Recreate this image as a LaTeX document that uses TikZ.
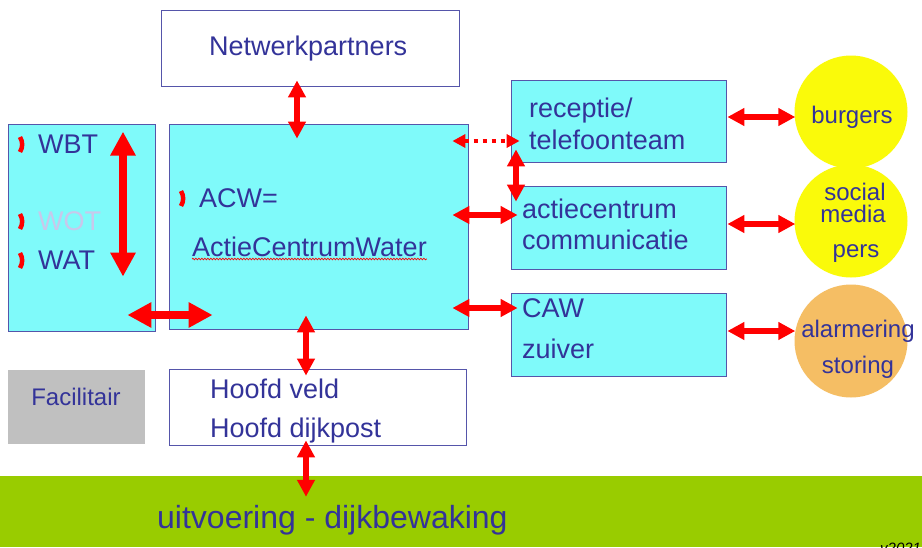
\documentclass[tikz,border=0pt]{standalone}
\usepackage{fontspec}
\setmainfont{Liberation Sans}
\usetikzlibrary{arrows.meta,decorations.pathmorphing,calc}
\definecolor{txtblue}{RGB}{51,51,153}
\definecolor{boxline}{RGB}{85,85,170}
\definecolor{cyanfill}{RGB}{127,250,250}
\definecolor{yel}{RGB}{250,250,10}
\definecolor{orng}{RGB}{245,190,100}
\definecolor{grn}{RGB}{153,204,0}
\definecolor{gry}{RGB}{192,192,192}
\definecolor{pale}{RGB}{200,200,235}
\tikzset{
  wbox/.style={draw=boxline, line width=0.8pt, fill=white, inner sep=0pt},
  cbox/.style={draw=boxline, line width=0.8pt, fill=cyanfill, inner sep=0pt},
  circ/.style={circle, inner sep=0pt, minimum size=113pt},
  lbl/.style={text=txtblue, inner sep=0pt, font=\fontsize{27}{31}\selectfont},
  clbl/.style={text=txtblue, inner sep=0pt, font=\fontsize{24}{28}\selectfont},
  arr/.style={draw=red, line width=6.5pt, {Triangle[width=17pt,length=17pt]}-{Triangle[width=17pt,length=17pt]}},
  bigarr/.style={draw=red, line width=8pt, {Triangle[width=24pt,length=24pt]}-{Triangle[width=24pt,length=24pt]}},
  dotarr/.style={draw=red, line width=4pt, dash pattern=on 4pt off 5pt, {Triangle[width=13pt,length=13pt]}-{Triangle[width=13pt,length=13pt]}},
  bul/.style={draw=red, line width=4.5pt},
}
\begin{document}
\begin{tikzpicture}[x=1pt,y=-1pt]
\clip (0,0) rectangle (922,547);
\fill[white] (0,0) rectangle (922,547);

% boxes
\node[wbox, minimum width=298pt, minimum height=76pt] (np) at (310,48) {};
\node[cbox, minimum width=147pt, minimum height=207pt] (left) at (81.5,227.5) {};
\node[cbox, minimum width=299pt, minimum height=205pt] (acw) at (318.5,226.5) {};
\node[cbox, minimum width=215pt, minimum height=82pt] (rec) at (618.5,121) {};
\node[cbox, minimum width=215pt, minimum height=83pt] (acc) at (618.5,227.5) {};
\node[cbox, minimum width=215pt, minimum height=83pt] (caw) at (618.5,334.5) {};
\node[fill=gry, inner sep=0pt, minimum width=137pt, minimum height=74pt] (fac) at (76.5,407) {};
\node[wbox, minimum width=297pt, minimum height=76pt] (hoofd) at (317.5,407) {};
\node[fill=grn, inner sep=0pt, minimum width=922pt, minimum height=71pt] (green) at (461,511.5) {};

% circles
\node[circ, fill=yel] (burg) at (851,112) {};
\node[circ, fill=yel] (soc) at (851,221) {};
\node[circ, fill=orng] (alarm) at (851,341) {};

% texts
\node[lbl, anchor=base west] (t-np) at (209,55) {Netwerkpartners};
\node[lbl, anchor=base west] (t-wbt) at (38,153) {WBT};
\node[lbl, anchor=base west, text=pale] (t-wot) at (38,230) {WOT};
\node[lbl, anchor=base west] (t-wat) at (38,269) {WAT};
\node[lbl, anchor=base west] (t-acw) at (199,207) {ACW=};
\node[lbl, anchor=base west] (t-acwl) at (192,256) {ActieCentrumWater};
\node[lbl, anchor=base west] (t-rec1) at (529,117) {receptie/};
\node[lbl, anchor=base west] (t-rec2) at (529,149) {telefoonteam};
\node[lbl, anchor=base west] (t-acc1) at (522,218) {actiecentrum};
\node[lbl, anchor=base west] (t-acc2) at (522,249) {communicatie};
\node[lbl, anchor=base west] (t-caw1) at (522,317) {CAW};
\node[lbl, anchor=base west] (t-caw2) at (522,358) {zuiver};
\node[lbl, anchor=base west] (t-h1) at (210,398) {Hoofd veld};
\node[lbl, anchor=base west] (t-h2) at (210,437) {Hoofd dijkpost};
\node[clbl, anchor=base] (t-fac) at (76,405) {Facilitair};
\node[text=txtblue, inner sep=0pt, font=\fontsize{32}{36}\selectfont, anchor=base west] (t-green) at (157,528) {uitvoering - dijkbewaking};
\node[clbl, anchor=base] (t-burg) at (852,123) {burgers};
\node[clbl, anchor=base] (t-soc1) at (855,200.5) {social};
\node[clbl, anchor=base] (t-soc2) at (853,222) {media};
\node[clbl, anchor=base] (t-soc3) at (856,257) {pers};
\node[clbl, anchor=base] (t-al1) at (858,337) {alarmering};
\node[clbl, anchor=base] (t-al2) at (858,373) {storing};
\node[inner sep=0pt, font=\fontsize{15}{18}\selectfont\itshape, anchor=base west] (t-ver) at (880,553) {v2021};

% spell-check underline
\draw[red, line width=0.7pt, decorate, decoration={snake, amplitude=0.8pt, segment length=3pt}] ($(t-acwl.base west)+(0,3)$) -- ($(t-acwl.base east)+(0,3)$);

% bullets
\draw[bul] (20,137) to[bend left=30] (20,152);
\draw[bul] (20,214) to[bend left=30] (20,229);
\draw[bul] (20,253) to[bend left=30] (20,268);
\draw[bul] (181,191) to[bend left=30] (181,206);

% arrows
\draw[arr] ($(np.south)+(-13,-6)$) -- ($(acw.north)+(-21.5,15)$);
\draw[bigarr] ($(left.north)+(41.5,8)$) -- ($(left.north)+(41.5,153)$);
\draw[bigarr] ($(left.east)+(-28,87.5)$) -- ($(acw.west)+(44,88.5)$);
\draw[arr] ($(acw.south)+(-12.5,-14)$) -- ($(hoofd.north)+(-11.5,7)$);
\draw[arr] ($(hoofd.south)+(-11.5,-5)$) -- ($(green.north)+(-155,21)$);
\draw[dotarr] ($(acw.east)+(-16,-85.5)$) -- ($(rec.west)+(9,20)$);
\draw[arr] ($(rec.south)+(-102.5,-13)$) -- ($(acc.north)+(-102.5,16)$);
\draw[arr] ($(acw.east)+(-16,-11.5)$) -- ($(acc.west)+(7,-12.5)$);
\draw[arr] ($(acw.east)+(-16,81.5)$) -- ($(caw.west)+(7,-26.5)$);
\draw[arr] ($(rec.east)+(1,-4)$) -- ($(burg.west)+(1,5)$);
\draw[arr] ($(acc.east)+(1,-3.5)$) -- ($(soc.west)+(1,3)$);
\draw[arr] ($(caw.east)+(1,-3.5)$) -- ($(alarm.west)+(1,-10)$);
\end{tikzpicture}
\end{document}
